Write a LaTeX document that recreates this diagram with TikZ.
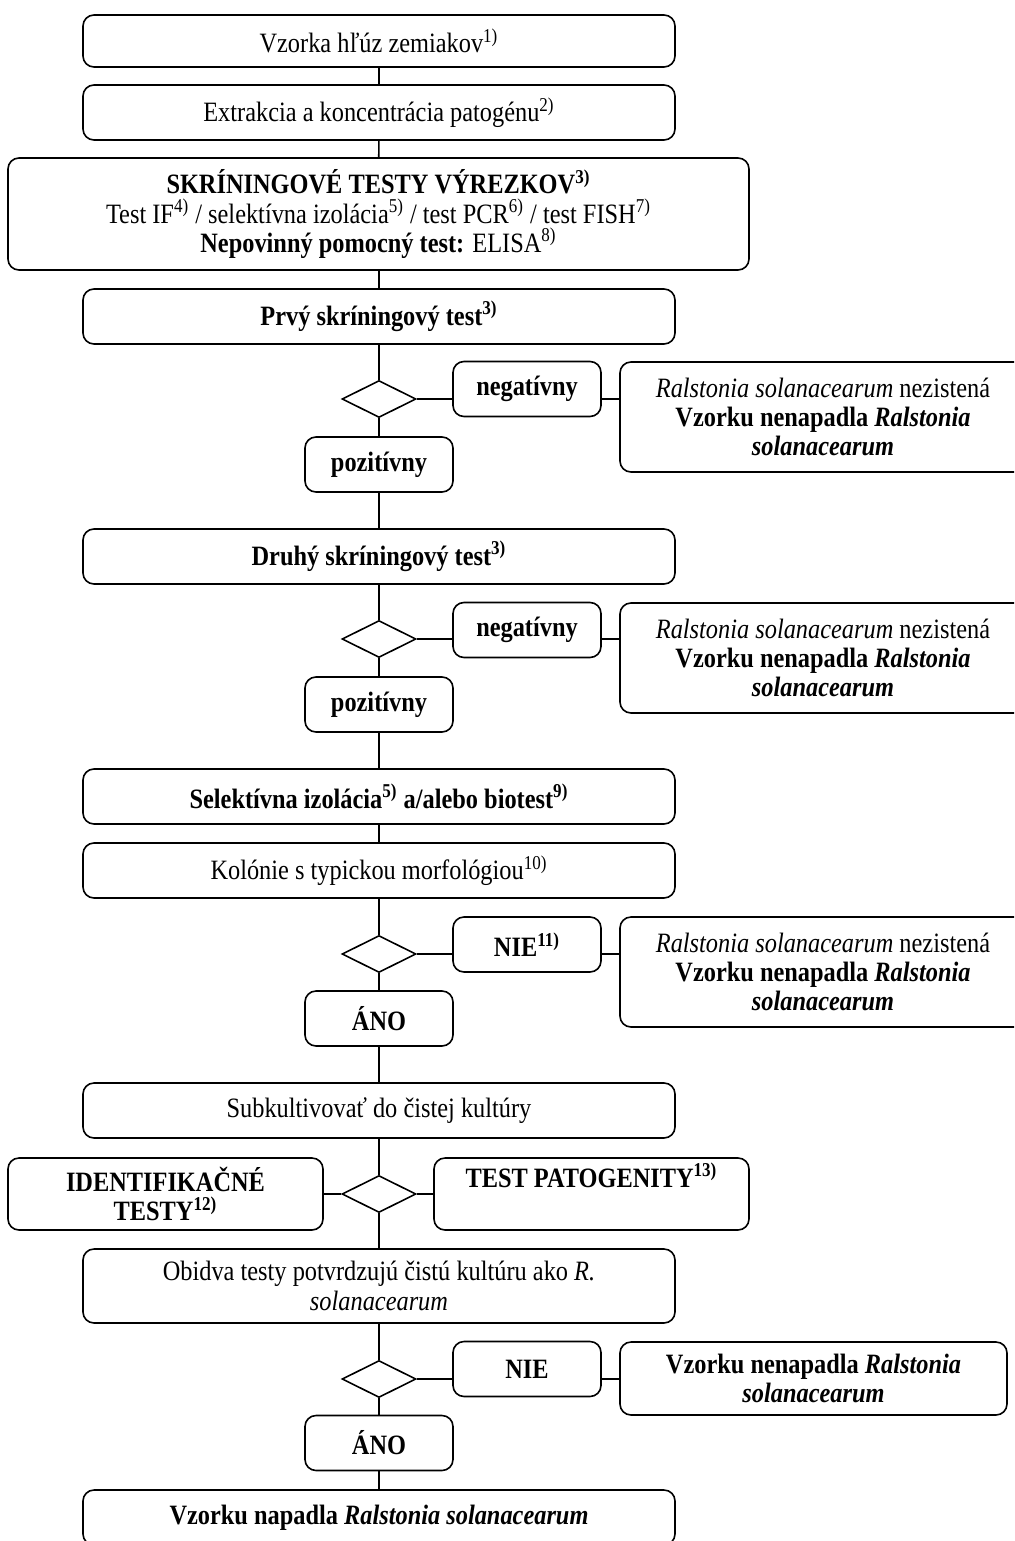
\documentclass[tikz,border=0pt]{standalone}
\usepackage{fontspec}
\setmainfont{Liberation Serif}[FakeStretch=0.87]
\usetikzlibrary{shapes.geometric}
\begin{document}
\begin{tikzpicture}[x=0.5pt,y=-0.5pt,
  every node/.style={font=\fontsize{14}{14.6}\selectfont, inner sep=0pt, align=center},
  box/.style={draw, line width=0.8pt, rounded corners=5.5pt},
  wide/.style={box, minimum width=296pt, minimum height=27.5pt},
  small/.style={box, minimum width=74pt, minimum height=27.5pt},
  side/.style={box, minimum width=203pt, minimum height=55pt},
  choice/.style={draw, line width=0.8pt, diamond, aspect=2, minimum width=37pt, minimum height=18.5pt},
  link/.style={line width=0.8pt}]
\useasboundingbox (0,0) rectangle (1014,1541);
\clip (0,0) rectangle (1014,1541);

% main column
\node[wide] (b1) at (379,41) [minimum height=26pt] {Vzorka hľúz zemiakov\textsuperscript{1)}};
\node[wide] (b2) at (379,112.5) {Extrakcia a koncentrácia patogénu\textsuperscript{2)}};
\node[box, minimum width=370.5pt, minimum height=56pt] (b3) at (378.5,214)
  {\textbf{SKRÍNINGOVÉ TESTY VÝREZKOV\textsuperscript{3)}}\\
   Test IF\textsuperscript{4)} / selektívna izolácia\textsuperscript{5)} / test PCR\textsuperscript{6)} / test FISH\textsuperscript{7)}\\
   \textbf{Nepovinný pomocný test:} ELISA\textsuperscript{8)}};
\node[wide] (b4) at (379,316.5) {\textbf{Prvý skríningový test\textsuperscript{3)}}};

% first screening decision
\node[choice] (d1) at (379,399) {};
\node[small] (n1) at (527,389) {\textbf{negatívny}};
\node[side] (r1) at (823,417)
  {\textit{Ralstonia solanacearum} nezistená\\
   \textbf{Vzorku nenapadla \textit{Ralstonia}}\\
   \textbf{\textit{solanacearum}}};
\node[small] (p1) at (379,464.5) {\textbf{pozitívny}};

\node[wide] (b5) at (379,556.5) {\textbf{Druhý skríningový test\textsuperscript{3)}}};

% second screening decision
\node[choice] (d2) at (379,639) {};
\node[small] (n2) at (527,630) {\textbf{negatívny}};
\node[side] (r2) at (823,658)
  {\textit{Ralstonia solanacearum} nezistená\\
   \textbf{Vzorku nenapadla \textit{Ralstonia}}\\
   \textbf{\textit{solanacearum}}};
\node[small] (p2) at (379,704.5) {\textbf{pozitívny}};

\node[wide] (b6) at (379,796.5) {\textbf{Selektívna izolácia\textsuperscript{5)} a/alebo biotest\textsuperscript{9)}}};
\node[wide] (b7) at (379,870.5) {Kolónie s typickou morfológiou\textsuperscript{10)}};

% colony decision
\node[choice] (d3) at (379,954) {};
\node[small] (n3) at (527,944.5) {\textbf{NIE\textsuperscript{11)}}};
\node[side] (r3) at (823,972)
  {\textit{Ralstonia solanacearum} nezistená\\
   \textbf{Vzorku nenapadla \textit{Ralstonia}}\\
   \textbf{\textit{solanacearum}}};
\node[small] (a3) at (379,1018.5) {\textbf{ÁNO}};

\node[wide] (b8) at (379,1110.5) {Subkultivovať do čistej kultúry};

% parallel tests
\node[choice] (d4) at (379,1194) {};
\node[box, minimum width=157.5pt, minimum height=36pt] (id) at (165.5,1194)
  {\textbf{IDENTIFIKAČNÉ}\\ \textbf{TESTY\textsuperscript{12)}}};
\node[box, minimum width=157.5pt, minimum height=36pt] (tp) at (591.5,1194)
  {\textbf{TEST PATOGENITY\textsuperscript{13)}}\\ \strut};

\node[wide, minimum height=37pt] (b9) at (379,1286)
  {Obidva testy potvrdzujú čistú kultúru ako \textit{R.}\\ \textit{solanacearum}};

% final decision
\node[choice] (d5) at (379,1379) {};
\node[small] (n5) at (527,1369) {\textbf{NIE}};
\node[box, minimum width=193.5pt, minimum height=36.5pt] (r5) at (813.5,1378.5)
  {\textbf{Vzorku nenapadla \textit{Ralstonia}}\\ \textbf{\textit{solanacearum}}};
\node[small] (a5) at (379,1443) {\textbf{ÁNO}};
\node[wide] (b10) at (379,1517.5) {\textbf{Vzorku napadla \textit{Ralstonia solanacearum}}};

% connectors
\draw[link] (b1) -- (b2);
\draw[link] (b2) -- (b3);
\draw[link] (b3.south -| b4.north) -- (b4);
\draw[link] (b4) -- (d1);
\draw[link] (d1) -- (p1);
\draw[link] (d1.east) -- (d1.east -| n1.west);
\draw[link] (d1.east -| n1.east) -- (d1.east -| r1.west);
\draw[link] (p1) -- (b5);
\draw[link] (b5) -- (d2);
\draw[link] (d2) -- (p2);
\draw[link] (d2.east) -- (d2.east -| n2.west);
\draw[link] (d2.east -| n2.east) -- (d2.east -| r2.west);
\draw[link] (p2) -- (b6);
\draw[link] (b6) -- (b7);
\draw[link] (b7) -- (d3);
\draw[link] (d3) -- (a3);
\draw[link] (d3.east) -- (d3.east -| n3.west);
\draw[link] (d3.east -| n3.east) -- (d3.east -| r3.west);
\draw[link] (a3) -- (b8);
\draw[link] (b8) -- (d4);
\draw[link] (d4.west) -- (id.east);
\draw[link] (d4.east) -- (tp.west);
\draw[link] (d4) -- (b9);
\draw[link] (b9) -- (d5);
\draw[link] (d5) -- (a5);
\draw[link] (d5.east) -- (d5.east -| n5.west);
\draw[link] (d5.east -| n5.east) -- (d5.east -| r5.west);
\draw[link] (a5) -- (b10);
\end{tikzpicture}
\end{document}
